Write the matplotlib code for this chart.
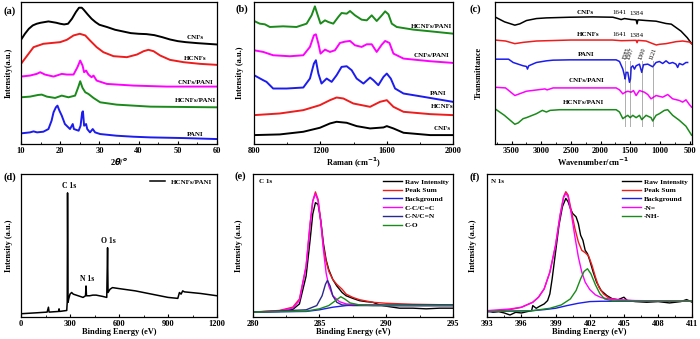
import numpy as np
import matplotlib
matplotlib.use('Agg')
import matplotlib.pyplot as plt
from matplotlib.ticker import MultipleLocator

plt.rcParams['font.family'] = 'Liberation Serif'
plt.rcParams['font.weight'] = 'bold'

# ---------------- (a) XRD ----------------
xrd_cnf_x = [10, 11, 12, 13, 14, 15, 16, 17, 18, 19, 20, 21, 22, 23, 24, 24.8, 25.5, 26, 27, 28, 29, 30,
             32, 34, 36, 38, 40, 42, 44, 46, 48, 50, 52, 55, 60]
xrd_cnf_y = [312, 330, 345, 355, 360, 363, 365, 367, 365, 363, 360, 358, 360, 375, 395, 408, 408, 402, 388,
             375, 365, 357, 350, 342, 337, 332, 330, 329, 326, 320, 313, 308, 305, 302, 298]
xrd_hcnf_x = [10, 13.2, 15.7, 17.4, 20, 21.7, 23.4, 25, 26.4, 27.6, 29.3, 31, 33.6, 37, 39.6, 41.3, 42.5,
              43.8, 45.5, 48, 51.5, 55.7, 60]
xrd_hcnf_y = [240, 290, 300, 302, 305, 312, 325, 330, 325, 310, 290, 275, 263, 260, 268, 278, 282, 278,
              265, 252, 245, 240, 237]
xrd_cpani_x = [10, 12.3, 14, 14.9, 16.1, 18.3, 20.4, 21.7, 23.4, 24.4, 25.1, 25.7, 26.1, 26.6, 27.2, 28,
               28.5, 29.3, 31.9, 38.7, 47.2, 60]
xrd_cpani_y = [202, 205, 210, 215, 208, 202, 210, 208, 208, 230, 250, 235, 215, 220, 208, 200, 205, 190,
               180, 175, 172, 172]
xrd_hpani_x = [10, 12.3, 14.4, 15.3, 16.6, 18.7, 20.4, 22.1, 23.8, 24.6, 25.1, 25.7, 26.4, 27.2, 28.5,
               30.2, 34.4, 43, 60]
xrd_hpani_y = [140, 142, 147, 148, 142, 138, 145, 140, 145, 170, 188, 168, 155, 150, 138, 125, 118, 112, 110]
xrd_pani_x = [10, 12.3, 13.2, 14.1, 15.7, 17, 17.8, 18.3, 18.9, 19.3, 19.8, 20.4, 21.2, 22.5, 23.2, 23.5,
              24.7, 25.2, 25.6, 25.8, 26.1, 26.6, 26.9, 27.6, 28.3, 28.9, 30.2, 34.4, 38.7, 43, 51.5, 60]
xrd_pani_y = [32, 35, 38, 35, 37, 45, 70, 95, 110, 115, 100, 85, 60, 45, 60, 45, 40, 55, 95, 98, 55, 60,
              45, 35, 45, 35, 30, 25, 22, 20, 18, 15]
xrd_names = ['CNFs', 'HCNFs', 'CNFs/PANI', 'HCNFs/PANI', 'PANI']
xrd_label_y = [318, 257, 185, 130, 30]

# ---------------- (b) Raman ----------------
ram_hpani_x = [800, 834, 865, 895, 975, 1056, 1117, 1147, 1167, 1181, 1201, 1228, 1248, 1278, 1308, 1328,
               1359, 1379, 1409, 1449, 1480, 1510, 1540, 1571, 1591, 1611, 1631, 1661, 1762, 1863, 2000]
ram_hpani_y = [370, 362, 360, 352, 354, 352, 362, 387, 414, 392, 362, 372, 367, 362, 382, 394, 392, 400,
               387, 374, 372, 387, 370, 387, 399, 390, 362, 352, 344, 339, 332]
ram_cpani_x = [800, 855, 915, 1016, 1097, 1137, 1161, 1173, 1188, 1201, 1228, 1258, 1288, 1318, 1349, 1379,
               1409, 1449, 1480, 1510, 1540, 1571, 1591, 1617, 1641, 1702, 1863, 2000]
ram_cpani_y = [282, 277, 267, 264, 267, 292, 327, 330, 302, 272, 284, 277, 282, 304, 308, 310, 297, 292,
               300, 300, 277, 299, 310, 304, 272, 257, 249, 244]
ram_pani_x = [800, 855, 875, 915, 996, 1097, 1137, 1161, 1173, 1188, 1207, 1238, 1268, 1298, 1328, 1359,
              1389, 1419, 1460, 1500, 1520, 1550, 1581, 1601, 1625, 1651, 1702, 1823, 2000]
ram_pani_y = [207, 192, 187, 167, 167, 170, 197, 242, 252, 212, 182, 197, 187, 207, 232, 234, 222, 197,
              182, 200, 192, 177, 202, 212, 197, 167, 152, 142, 127]
ram_hcnf_x = [800, 955, 1097, 1197, 1258, 1298, 1339, 1399, 1500, 1560, 1601, 1641, 1702, 1863, 2000]
ram_hcnf_y = [87, 92, 102, 117, 132, 140, 137, 122, 112, 127, 132, 112, 97, 90, 87]
ram_cnf_x = [800, 955, 1097, 1197, 1258, 1298, 1359, 1419, 1500, 1581, 1601, 1641, 1702, 1863, 2000]
ram_cnf_y = [27, 29, 37, 49, 62, 67, 64, 54, 47, 50, 54, 47, 34, 27, 27]
ram_names = ['HCNFs/PANI', 'CNFs/PANI', 'PANI', 'HCNFs', 'CNFs']
ram_label_x = [1873, 1869, 1913, 1934, 1934]
ram_label_y = [354, 267, 153, 112, 47]

# ---------------- (c) FTIR ----------------
ir_cnf_x = [3780, 3617, 3444, 3360, 3248, 3080, 2912, 2520, 2128, 1792, 1708, 1652, 1596, 1484, 1400,
            1384, 1370, 1232, 1064, 896, 807, 644, 538, 465]
ir_cnf_y = [385, 370, 360, 364, 374, 380, 382, 384, 385, 384, 380, 377, 380, 377, 376, 364, 376, 374,
            372, 365, 363, 342, 322, 304]
ir_hcnf_x = [3780, 3600, 3444, 3300, 3080, 2500, 1800, 1650, 1400, 1384, 1370, 1232, 1120, 1060, 1008,
             896, 728, 616, 504, 465]
ir_hcnf_y = [315, 312, 304, 308, 312, 315, 315, 313, 314, 307, 314, 312, 304, 300, 302, 304, 310, 312,
             309, 304]
ir_pani_x = [3780, 3550, 3472, 3388, 3304, 3248, 3231, 3210, 3080, 2912, 2800, 2520, 1736, 1680, 1624,
             1596, 1585, 1568, 1540, 1512, 1495, 1484, 1456, 1428, 1400, 1344, 1305, 1277, 1204, 1121,
             1064, 1008, 952, 896, 840, 784, 728, 700, 672, 616, 560, 532]
ir_pani_y = [257, 257, 247, 242, 237, 235, 227, 237, 247, 252, 254, 255, 255, 250, 227, 207, 197, 217,
             217, 187, 197, 232, 237, 227, 237, 242, 217, 240, 242, 234, 247, 250, 244, 252, 244, 247,
             242, 232, 244, 240, 247, 247]
ir_cpani_x = [3780, 3600, 3444, 3248, 2936, 2900, 2800, 1736, 1680, 1624, 1585, 1540, 1484, 1445, 1400,
              1344, 1260, 1204, 1148, 1064, 952, 868, 784, 672, 616, 560, 504, 465]
ir_cpani_y = [172, 170, 147, 160, 167, 164, 170, 170, 164, 152, 157, 160, 157, 162, 147, 162, 157, 150,
              137, 147, 142, 150, 137, 132, 127, 134, 120, 112]
ir_hpani_x = [3780, 3620, 3444, 3388, 3304, 3248, 3080, 2980, 2912, 2850, 2688, 1736, 1680, 1624, 1585,
              1540, 1500, 1456, 1400, 1344, 1305, 1232, 1148, 1121, 1064, 1008, 924, 868, 784, 672, 560, 465]
ir_hpani_y = [107, 87, 60, 64, 77, 80, 92, 102, 97, 102, 104, 104, 97, 77, 82, 87, 80, 87, 80, 87, 74,
              87, 80, 70, 87, 92, 102, 104, 87, 72, 54, 27]
ir_names = ['CNFs', 'HCNFs', 'PANI', 'CNFs/PANI', 'HCNFs/PANI']
ir_label_x = [2251, 2212, 2240, 2240, 2285]
ir_label_y = [397, 332, 272, 192, 127]
ir_marks = [1585, 1507, 1300, 1121]

# ---------------- (d) XPS survey ----------------
svy_x = [0, 100, 160, 168, 172, 230, 233, 236, 280, 283, 285, 288, 292, 300, 310, 320, 350, 380, 395,
         398, 401, 420, 440, 460, 500, 525, 530, 533, 545, 560, 600, 700, 800, 900, 960, 970, 980, 990,
         1000, 1100, 1200]
svy_y = [10, 13, 15, 30, 15, 17, 25, 17, 20, 45, 380, 45, 55, 70, 75, 70, 65, 60, 65, 95, 65, 65, 67, 67,
         63, 60, 212, 75, 85, 90, 87, 80, 70, 60, 57, 75, 70, 80, 77, 72, 65]

# ---------------- (e) C 1s ----------------
c_raw_x = [280, 282, 283, 283.5, 284, 284.3, 284.5, 284.7, 284.9, 285.1, 285.3, 285.5, 285.7, 286, 286.3,
           286.7, 287, 287.5, 288, 288.5, 289, 289.5, 290, 290.5, 291, 292, 293, 294, 295]
c_raw_y = [15, 17, 23, 40, 125, 235, 315, 350, 345, 295, 225, 175, 145, 115, 95, 75, 65, 57, 50, 47, 45,
           37, 33, 30, 27, 27, 25, 27, 27]
c_sum_x = [280, 282, 283, 283.5, 284, 284.3, 284.5, 284.7, 284.9, 285.1, 285.3, 285.5, 285.7, 286, 286.3,
           286.7, 287, 287.5, 288, 289, 290, 292, 295]
c_sum_y = [15, 20, 30, 55, 155, 285, 355, 383, 360, 295, 215, 170, 140, 115, 100, 85, 70, 60, 53, 45, 42,
           39, 37]
c_bg_x = [280, 284, 285, 286, 287, 288, 290, 295]
c_bg_y = [15, 17, 22, 30, 35, 37, 37, 37]
c_cc_x = [280, 282, 283, 283.5, 284, 284.3, 284.5, 284.7, 284.9, 285.1, 285.3, 285.5, 285.7, 286, 286.5,
          287, 288, 290, 295]
c_cc_y = [15, 19, 27, 50, 155, 285, 355, 377, 355, 290, 205, 135, 95, 65, 47, 40, 37, 35, 35]
c_cn_x = [280, 284, 284.8, 285.2, 285.45, 285.6, 285.8, 286, 286.3, 286.7, 287.5, 295]
c_cn_y = [15, 22, 35, 65, 100, 112, 95, 65, 45, 37, 35, 35]
c_co_x = [280, 284, 285, 285.7, 286.2, 286.6, 286.9, 287.3, 288, 289, 295]
c_co_y = [15, 18, 25, 35, 50, 62, 55, 43, 37, 35, 35]
c_names = ['Raw Intensity', 'Peak Sum', 'Background', 'C-C/C=C', 'C-N/C=N', 'C-O']

# ---------------- (f) N 1s ----------------
n_raw_x = [393, 393.5, 394, 394.5, 395, 395.5, 396, 396.5, 396.9, 397, 397.3, 397.6, 398, 398.3, 398.5,
           398.7, 399, 399.3, 399.6, 399.9, 400.1, 400.3, 400.5, 400.8, 401, 401.2, 401.4, 401.6, 401.8,
           402, 402.3, 402.6, 403, 403.5, 404, 404.5, 405, 405.3, 406, 407, 408, 409, 410, 410.5, 411]
n_raw_y = [7, 2, 4, 0, -6, 2, 0, 4, 7, 22, 14, 20, 27, 37, 57, 102, 182, 262, 317, 342, 332, 312, 297,
           287, 267, 232, 217, 187, 177, 157, 122, 92, 67, 52, 42, 40, 47, 37, 34, 32, 34, 30, 34, 40, 32]
n_sum_x = [393, 395, 396, 397, 397.5, 398, 398.5, 399, 399.4, 399.7, 399.9, 400.1, 400.4, 400.7, 401,
           401.3, 401.6, 401.9, 402.2, 402.5, 402.8, 403.2, 403.7, 404.5, 406, 411]
n_sum_y = [4, 10, 17, 32, 47, 72, 122, 202, 292, 347, 362, 352, 302, 252, 212, 187, 180, 170, 142, 107,
           77, 57, 44, 39, 36, 35]
n_bg_x = [393, 397, 398, 399, 400, 401, 402, 403, 411]
n_bg_y = [4, 7, 10, 14, 22, 29, 34, 35, 35]
n_n_x = [393, 395, 396, 397, 397.5, 398, 398.5, 399, 399.4, 399.7, 399.9, 400.1, 400.4, 400.7, 401,
         401.3, 401.6, 402, 402.5, 403, 404, 406, 411]
n_n_y = [7, 12, 17, 32, 47, 72, 122, 202, 292, 344, 357, 347, 292, 227, 167, 122, 92, 70, 54, 46, 40,
         37, 35]
n_nh_x = [393, 397, 398.5, 399.5, 400.3, 400.8, 401.2, 401.5, 401.8, 402.1, 402.5, 402.9, 403.3, 404, 411]
n_nh_y = [4, 7, 14, 24, 42, 67, 102, 124, 132, 117, 84, 57, 42, 36, 35]
n_names = ['Raw Intensity', 'Peak Sum', 'Background', '-N=', '-NH-']

BLK, RED, BLU, MAG, GRN, NAVY = 'black', '#ee1c1c', '#1c1cee', '#ff00ff', '#1a8a1a', '#2a2a8c'

fig = plt.figure(figsize=(7, 3.39), dpi=100)


def make_ax(rect, xlabel, ylabel, ylx):
    ax = fig.add_axes(rect)
    ax.set_yticks([])
    ax.tick_params(axis='x', direction='in', length=2.5, width=0.8, labelsize=6, pad=2)
    ax.tick_params(axis='x', which='minor', direction='in', length=1.5, width=0.6)
    for s in ax.spines.values():
        s.set_linewidth(0.9)
    ax.set_xlabel(xlabel, fontsize=6, fontweight='bold', labelpad=0.5)
    ax.yaxis.set_label_coords(ylx, 0.5)
    ax.set_ylabel(ylabel, fontsize=6, fontweight='bold')
    return ax


def tag(x, y, s):
    fig.text(x / 700, 1 - y / 339, s, fontsize=7.5, fontweight='bold', ha='left', va='center')


# (a)
ax = make_ax([0.030, 0.575, 0.280, 0.419], r'2$\theta$/$^o$', 'Intensity(a.u.)', -0.04)
for xs, ys, c in [(xrd_cnf_x, xrd_cnf_y, BLK), (xrd_hcnf_x, xrd_hcnf_y, RED), (xrd_cpani_x, xrd_cpani_y, MAG),
                  (xrd_hpani_x, xrd_hpani_y, GRN), (xrd_pani_x, xrd_pani_y, BLU)]:
    ax.plot(xs, ys, color=c, lw=1.4)
for n, y in zip(xrd_names, xrd_label_y):
    ax.text(54.5, y, n, fontsize=5, ha='center', va='center')
ax.set_xlim(10, 60)
ax.set_ylim(0, 425)
ax.xaxis.set_major_locator(MultipleLocator(10))
ax.xaxis.set_minor_locator(MultipleLocator(5))
tag(3, 11, '(a)')

# (b)
ax = make_ax([0.363, 0.575, 0.284, 0.419], r'Raman (cm$^{-1}$)', 'Intensity (a.u.)', -0.05)
for xs, ys, c in [(ram_hpani_x, ram_hpani_y, GRN), (ram_cpani_x, ram_cpani_y, MAG), (ram_pani_x, ram_pani_y, BLU),
                  (ram_hcnf_x, ram_hcnf_y, RED), (ram_cnf_x, ram_cnf_y, BLK)]:
    ax.plot(xs, ys, color=c, lw=1.4)
for n, x, y in zip(ram_names, ram_label_x, ram_label_y):
    ax.text(x, y, n, fontsize=5, ha='center', va='center')
ax.set_xlim(800, 2000)
ax.set_ylim(0, 427)
ax.xaxis.set_major_locator(MultipleLocator(400))
ax.xaxis.set_minor_locator(MultipleLocator(200))
tag(236, 9, '(b)')

# (c)
ax = make_ax([0.707, 0.575, 0.281, 0.419], r'Wavenumber/cm$^{-1}$', 'Transmittance', -0.06)
for xs, ys, c in [(ir_cnf_x, ir_cnf_y, BLK), (ir_hcnf_x, ir_hcnf_y, RED), (ir_pani_x, ir_pani_y, BLU),
                  (ir_cpani_x, ir_cpani_y, MAG), (ir_hpani_x, ir_hpani_y, GRN)]:
    ax.plot(xs, ys, color=c, lw=1.1)
for n, x, y in zip(ir_names, ir_label_x, ir_label_y):
    ax.text(x, y, n, fontsize=5, ha='center', va='center')
for y in [397, 332]:
    ax.text(1680, y, '1641', fontsize=5, fontweight='normal', ha='center', va='center')
    ax.text(1395, y - 3, '1384', fontsize=5, fontweight='normal', ha='center', va='center')
for m in ir_marks:
    ax.plot([m, m], [54, 252], color='#444444', lw=0.6, ls=(0, (1.2, 1.2)))
    ax.text(m - 10, 275, str(m), fontsize=4.5, fontweight='normal', rotation=70, ha='center', va='center')
ax.set_xlim(3780, 465)
ax.set_ylim(0, 430)
ax.xaxis.set_major_locator(MultipleLocator(500))
ax.xaxis.set_minor_locator(MultipleLocator(250))
tag(470, 9, '(c)')

# (d)
ax = make_ax([0.030, 0.0649, 0.280, 0.422], 'Binding Energy (eV)', 'Intensity (a.u.)', -0.04)
ax.plot(svy_x, svy_y, color=BLK, lw=1.1, label='HCNFs/PANI')
ax.text(292, 400, 'C 1s', fontsize=5.5, ha='center', va='center')
ax.text(404, 115, 'N 1s', fontsize=5.5, ha='center', va='center')
ax.text(537, 233, 'O 1s', fontsize=5.5, ha='center', va='center')
ax.legend(loc='upper right', frameon=False, fontsize=5, handlelength=2.2, borderaxespad=0.3)
ax.set_xlim(0, 1200)
ax.set_ylim(0, 438)
ax.xaxis.set_major_locator(MultipleLocator(300))
ax.xaxis.set_minor_locator(MultipleLocator(150))
tag(3, 177, '(d)')

# (e)
ax = make_ax([0.361, 0.0649, 0.286, 0.422], 'Binding Energy (eV)', 'Intensity (a.u.)', -0.05)
for xs, ys, c, n in zip([c_raw_x, c_sum_x, c_bg_x, c_cc_x, c_cn_x, c_co_x],
                        [c_raw_y, c_sum_y, c_bg_y, c_cc_y, c_cn_y, c_co_y],
                        [BLK, RED, BLU, MAG, NAVY, GRN], c_names):
    ax.plot(xs, ys, color=c, lw=1.0, label=n)
ax.text(0.03, 0.95, 'C 1s', transform=ax.transAxes, fontsize=5, ha='left', va='center')
ax.legend(loc='upper right', frameon=False, fontsize=5.3, handlelength=2.6, labelspacing=0.35,
          borderaxespad=0.2, handletextpad=0.4)
ax.set_xlim(280, 295)
ax.set_ylim(0, 438)
ax.xaxis.set_major_locator(MultipleLocator(5))
ax.xaxis.set_minor_locator(MultipleLocator(2.5))
tag(235, 176, '(e)')

# (f)
ax = make_ax([0.696, 0.0649, 0.293, 0.422], 'Binding Energy (eV)', 'Intensity (a.u.)', -0.05)
for xs, ys, c, n in zip([n_raw_x, n_sum_x, n_bg_x, n_n_x, n_nh_x],
                        [n_raw_y, n_sum_y, n_bg_y, n_n_y, n_nh_y],
                        [BLK, RED, BLU, MAG, GRN], n_names):
    ax.plot(xs, ys, color=c, lw=1.0, label=n)
ax.text(0.02, 0.95, 'N 1s', transform=ax.transAxes, fontsize=5, ha='left', va='center')
ax.legend(loc='upper right', frameon=False, fontsize=5.3, handlelength=2.6, labelspacing=0.35,
          borderaxespad=0.2, handletextpad=0.4)
ax.set_xlim(393, 411)
ax.set_ylim(-12, 415)
ax.xaxis.set_major_locator(MultipleLocator(3))
ax.xaxis.set_minor_locator(MultipleLocator(1.5))
tag(470, 177, '(f)')

fig.savefig('out.png', dpi=100)
